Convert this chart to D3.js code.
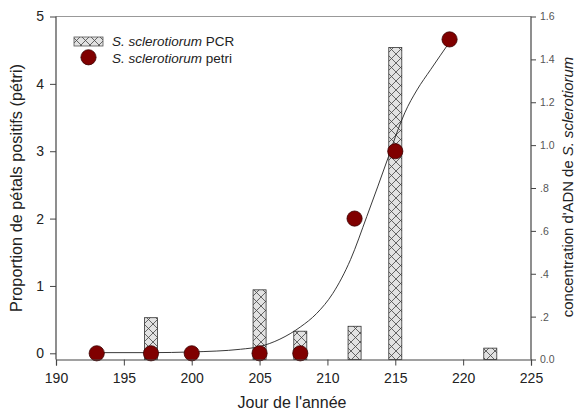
<!DOCTYPE html>
<html>
<head>
<meta charset="utf-8">
<script src="https://cdn.jsdelivr.net/npm/d3@7"></script>
<style>
  body { margin: 0; background: #fff; }
  text { font-family: "Liberation Sans", Arial, sans-serif; }
</style>
</head>
<body>
<svg width="579" height="412"></svg>
<script>
// données
const barDays = [197, 205, 208, 212, 215, 222];
const barDNA = [0.195, 0.325, 0.132, 0.155, 1.455, 0.053];

const petriDays = [193, 197, 200, 205, 208, 212, 215, 219];
const petriVals = [0, 0, 0, 0, 0, 2.0, 3.0, 4.66];

// courbe ajustée
const fitDays = [193, 197, 200, 203.6, 205, 206.5, 208, 209.2, 210.4, 211.7, 212.9, 214.5, 215.2, 215.7, 216.6, 217.6, 219];
const fitVals = [0.01, 0.01, 0.02, 0.06, 0.1, 0.21, 0.39, 0.59, 0.89, 1.39, 2.03, 2.92, 3.32, 3.57, 3.91, 4.21, 4.62];

const xTicks = [190, 195, 200, 205, 210, 215, 220, 225];
const leftTicks = [0, 1, 2, 3, 4, 5];
const rightTicks = [0, 0.2, 0.4, 0.6, 0.8, 1.0, 1.2, 1.4, 1.6];

const svg = d3.select("svg");

const x = d3.scaleLinear().domain([190, 225]).range([56, 531]);
const yL = d3.scaleLinear().domain([0, 5]).range([353.3, 16.5]);
const yR = d3.scaleLinear().domain([0, 1.6]).range([359.5, 16.5]);

// motif hachuré
const pat = svg.append("defs").append("pattern")
  .attr("id", "hatch")
  .attr("patternUnits", "userSpaceOnUse")
  .attr("width", 9).attr("height", 9);
pat.append("rect").attr("width", 9).attr("height", 9).attr("fill", "#e2e2e2");
pat.append("path").attr("d", "M0,0L9,9M9,0L0,9")
  .attr("stroke", "#444").attr("stroke-width", 0.8);

// cadre haut
svg.append("line")
  .attr("x1", 56).attr("x2", 531).attr("y1", 16.5).attr("y2", 16.5)
  .attr("stroke", "#999").attr("stroke-width", 1.2);

// barres PCR
svg.selectAll("rect.bar")
  .data(barDays.map((d, i) => ({ day: d, v: barDNA[i] })))
  .join("rect")
  .attr("class", "bar")
  .attr("x", d => x(d.day - 0.48))
  .attr("width", d => x(d.day + 0.48) - x(d.day - 0.48))
  .attr("y", d => yR(d.v))
  .attr("height", d => yR(0) - yR(d.v))
  .attr("fill", "url(#hatch)")
  .attr("stroke", "#333")
  .attr("stroke-width", 0.8);

// courbe
svg.append("path")
  .datum(fitDays.map((d, i) => [d, fitVals[i]]))
  .attr("d", d3.line().x(d => x(d[0])).y(d => yL(d[1])).curve(d3.curveMonotoneX))
  .attr("fill", "none")
  .attr("stroke", "#222")
  .attr("stroke-width", 0.9);

// points petri
svg.selectAll("circle.pt")
  .data(petriDays.map((d, i) => ({ day: d, v: petriVals[i] })))
  .join("circle")
  .attr("class", "pt")
  .attr("cx", d => x(d.day))
  .attr("cy", d => yL(d.v))
  .attr("r", 7.6)
  .attr("fill", "#800000")
  .attr("stroke", "#3a0000")
  .attr("stroke-width", 0.8);

// axe x
const gx = svg.append("g").attr("transform", "translate(0,359.5)");
gx.call(d3.axisBottom(x).tickValues(d3.range(190, 226, 1)).tickSize(4).tickFormat(""));
gx.call(d3.axisBottom(x).tickValues(xTicks).tickSize(6).tickPadding(8).tickFormat(d3.format("d")));
gx.selectAll(".domain").attr("stroke", "#444").attr("stroke-width", 1.2);
gx.selectAll("line").attr("stroke", "#444");
gx.selectAll("text").attr("font-size", 14).attr("fill", "#222");

// axe gauche
const gl = svg.append("g").attr("transform", "translate(56,0)");
gl.call(d3.axisLeft(yL).tickValues(leftTicks).tickSize(6).tickPadding(6).tickFormat(d3.format("d")));
gl.select(".domain").attr("d", "M0,16.5V359.5").attr("stroke", "#444").attr("stroke-width", 1.2);
gl.selectAll("line").attr("stroke", "#444");
gl.selectAll("text").attr("font-size", 14).attr("fill", "#222");

// axe droit
const fmtR = d => d === 0 ? "0.0" : (d < 1 ? d3.format(".1f")(d).replace(/^0/, "") : d3.format(".1f")(d));
const gr = svg.append("g").attr("transform", "translate(531,0)");
gr.call(d3.axisRight(yR).tickValues(rightTicks).tickSize(5).tickPadding(4).tickFormat(fmtR));
gr.select(".domain").attr("d", "M0,16.5V359.5").attr("stroke", "#444").attr("stroke-width", 1.2);
gr.selectAll("line").attr("stroke", "#444");
gr.selectAll("text").attr("font-size", 10.5).attr("fill", "#555");

// titres
svg.append("text")
  .attr("transform", "translate(22,188) rotate(-90)")
  .attr("text-anchor", "middle")
  .attr("font-size", 16.3).attr("fill", "#222")
  .text("Proportion de pétals positifs (pétri)");

const tr = svg.append("text")
  .attr("transform", "translate(573,187) rotate(-90)")
  .attr("text-anchor", "middle")
  .attr("font-size", 14.9).attr("fill", "#222");
tr.append("tspan").text("concentration d'ADN de ");
tr.append("tspan").attr("font-style", "italic").text("S. sclerotiorum");

svg.append("text")
  .attr("x", 292).attr("y", 408)
  .attr("text-anchor", "middle")
  .attr("font-size", 16).attr("fill", "#222")
  .text("Jour de l'année");

// légende
svg.append("rect")
  .attr("x", 74).attr("y", 37).attr("width", 29).attr("height", 9)
  .attr("fill", "url(#hatch)").attr("stroke", "#555").attr("stroke-width", 0.8);
svg.append("circle")
  .attr("cx", 88.5).attr("cy", 57.3).attr("r", 7.6)
  .attr("fill", "#800000").attr("stroke", "#3a0000").attr("stroke-width", 0.8);

const leg = [["PCR", 46], ["petri", 62.5]];
leg.forEach(([lab, y]) => {
  const t = svg.append("text").attr("x", 112).attr("y", y)
    .attr("font-size", 13.5).attr("fill", "#222");
  t.append("tspan").attr("font-style", "italic").text("S. sclerotiorum");
  t.append("tspan").text(" " + lab);
});
</script>
</body>
</html>
